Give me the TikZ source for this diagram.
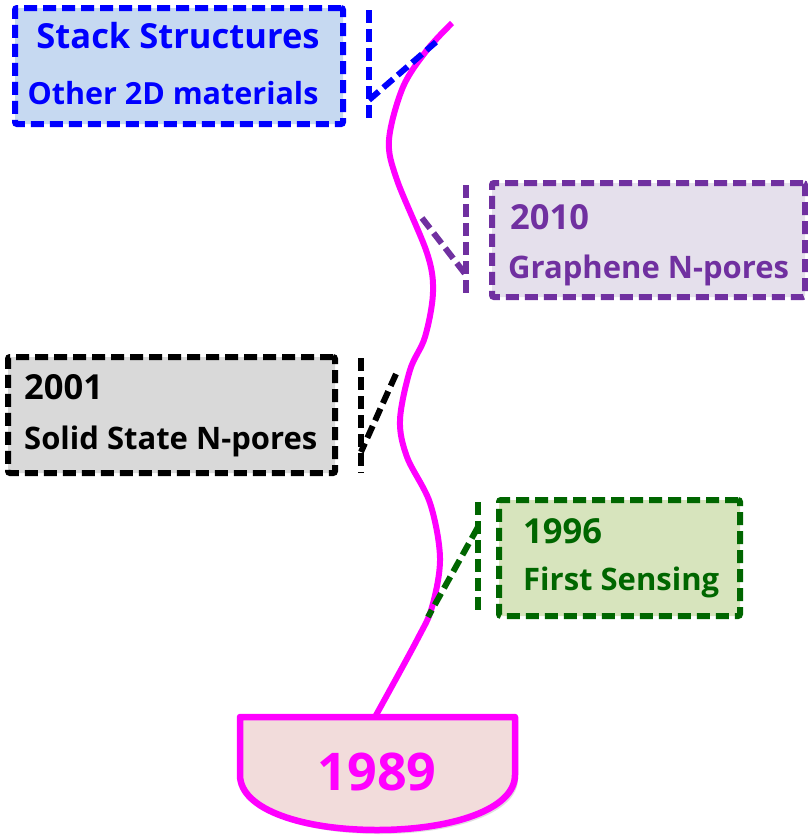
\documentclass[tikz,border=0pt]{standalone}
\usepackage{fontspec}
\setmainfont{Open Sans}
\definecolor{cblue}{RGB}{0,0,255}
\definecolor{fblue}{RGB}{198,217,241}
\definecolor{cpurple}{RGB}{112,48,160}
\definecolor{fpurple}{RGB}{229,224,236}
\definecolor{cblack}{RGB}{0,0,0}
\definecolor{fgray}{RGB}{217,217,217}
\definecolor{cgreen}{RGB}{0,102,0}
\definecolor{fgreen}{RGB}{215,228,189}
\definecolor{cmag}{RGB}{255,0,255}
\definecolor{fpink}{RGB}{242,220,219}
\begin{document}
\begin{tikzpicture}[x=1pt,y=-1pt,
  dline/.style={line width=6pt, dash pattern=on 13pt off 6pt},
  ybox/.style={dline, rounded corners=2pt, inner sep=0pt, minimum width=#1},
  ttl/.style={font=\bfseries\fontsize{34.5}{34.5}\selectfont, anchor=base west, inner sep=0pt},
  sub/.style={font=\bfseries\fontsize{31}{31}\selectfont, anchor=base west, inner sep=0pt},
  conn/.style={dline}
]
\useasboundingbox (0,0) rectangle (807,835);

% boxes
\node[ybox=328pt, minimum height=116pt, draw=cblue, fill=fblue] (b2d) at (179,66) {};
\node[ybox=313pt, minimum height=114pt, draw=cpurple, fill=fpurple] (bgr) at (648.5,240) {};
\node[ybox=327pt, minimum height=116pt, draw=cblack, fill=fgray] (bss) at (171.5,415) {};
\node[ybox=241pt, minimum height=116pt, draw=cgreen, fill=fgreen] (bfs) at (619.5,558) {};

% texts
\node[ttl, anchor=base, text=cblue] (t2da) at (178,48) {Stack Structures};
\node[sub, font=\bfseries\fontsize{30.5}{30.5}\selectfont, anchor=base, text=cblue] (t2db) at (173,104) {Other 2D materials};
\node[ttl, text=cpurple] (tgra) at (510,229) {2010};
\node[sub, text=cpurple] (tgrb) at (508,278) {Graphene N-pores};
\node[ttl, text=cblack] (tssa) at (24,399) {2001};
\node[sub, text=cblack] (tssb) at (24,449) {Solid State N-pores};
\node[ttl, text=cgreen] (tfsa) at (523,543) {1996};
\node[sub, text=cgreen] (tfsb) at (523,590) {First Sensing};

% base shape 1989
\fill[black!25, opacity=0.5] (243,721) -- (518,721) -- (518,779)
  .. controls (518,814) and (453,834) .. (380,834)
  .. controls (307,834) and (243,814) .. (243,779) -- cycle;
\draw[cmag, line width=6.5pt, fill=fpink, line join=round] (240,717) -- (515,717) -- (515,775)
  .. controls (515,810) and (450,830) .. (377,830)
  .. controls (304,830) and (240,810) .. (240,775) -- cycle;
\coordinate (root) at (375,717);
\node[font=\bfseries\fontsize{52}{52}\selectfont, text=cmag, anchor=base, inner sep=0pt] (t1989) at (377,790) {1989};

% timeline curve
\coordinate (tip) at (452,23);
\draw[cmag, line width=6pt] plot[smooth, tension=0.55] coordinates {
  (452,23) (427,50) (403,87) (389,140) (397,180) (427,253) (433,292)
  (425,337) (410,370) (400,420) (407,457) (430,503) (440,558)
  (432,607) (417,640) (375,717)};

% brackets
\coordinate (v2da) at (369,10); \coordinate (v2db) at (369,122);
\coordinate (d2da) at (369,100); \coordinate (d2db) at (436,42);
\draw[conn, cblue] (v2da) -- (v2db);
\draw[conn, cblue] (d2da) -- (d2db);

\coordinate (vgra) at (466,185); \coordinate (vgrb) at (466,297);
\coordinate (dgra) at (422,218); \coordinate (dgrb) at (466,275);
\draw[conn, cpurple] (vgra) -- (vgrb);
\draw[conn, cpurple] (dgra) -- (dgrb);

\coordinate (vssa) at (361,358); \coordinate (vssb) at (361,473);
\coordinate (dssa) at (396,374); \coordinate (dssb) at (361,452);
\draw[conn, cblack] (vssa) -- (vssb);
\draw[conn, cblack] (dssa) -- (dssb);

\coordinate (vfsa) at (478,502); \coordinate (vfsb) at (478,616);
\coordinate (dfsa) at (478,527); \coordinate (dfsb) at (428,617);
\draw[conn, cgreen] (vfsa) -- (vfsb);
\draw[conn, cgreen] (dfsa) -- (dfsb);
\end{tikzpicture}
\end{document}
